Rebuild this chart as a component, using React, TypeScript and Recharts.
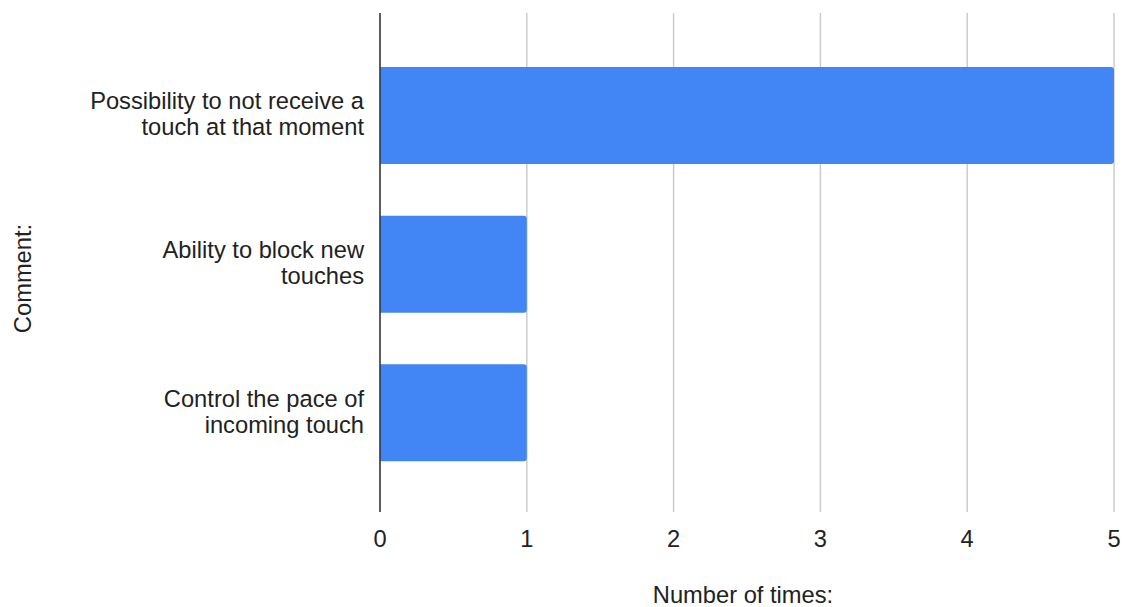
import { BarChart, Bar, XAxis, YAxis, CartesianGrid, Label } from 'recharts'

const comments = [
  'Possibility to not receive a\ntouch at that moment',
  'Ability to block new\ntouches',
  'Control the pace of\nincoming touch',
]
const timesCounted = [5, 1, 1]
const xTicks = [0, 1, 2, 3, 4, 5]

const data = comments.map((c, i) => ({ comment: c, times: timesCounted[i] }))

const FONT = '"Liberation Sans", Arial, sans-serif'
const FS = 23.7

// multi-line category label, right aligned against the axis
function CommentTick(props: any) {
  const { x, y, payload } = props
  const lines = String(payload.value).split('\n')
  const lineH = 26
  const startY = y - ((lines.length - 1) * lineH) / 2 - 1
  return (
    <text
      x={x - 8}
      y={startY}
      textAnchor="end"
      fontFamily={FONT}
      fontSize={FS}
      fill="#222"
      dominantBaseline="central"
    >
      {lines.map((line, i) => (
        <tspan key={i} x={x - 8} y={startY + i * lineH}>
          {line}
        </tspan>
      ))}
    </text>
  )
}

function CommentTitle(props: any) {
  const { viewBox } = props
  const x = viewBox.x + 31
  const y = viewBox.y + viewBox.height / 2 + 16
  return (
    <text
      x={x}
      y={y}
      transform={`rotate(-90, ${x}, ${y})`}
      textAnchor="middle"
      fontFamily={FONT}
      fontSize={FS}
      fill="#222"
    >
      Comment:
    </text>
  )
}

export default function App() {
  return (
    <div style={{ position: 'absolute', left: 0, top: 0, width: 1124, height: 607, background: '#fff' }}>
      <BarChart
        width={1124}
        height={607}
        data={data}
        layout="vertical"
        margin={{ top: 13, right: 10, bottom: 0, left: 0 }}
        barCategoryGap="17.5%"
      >
        <CartesianGrid horizontal={false} stroke="#cccccc" strokeWidth={1.5} />
        <XAxis
          type="number"
          domain={[0, 5]}
          ticks={xTicks}
          axisLine={false}
          tickLine={false}
          height={95}
          tick={{ fontSize: FS, fill: '#222', fontFamily: FONT }}
          tickMargin={12}
        >
          <Label
            value="Number of times:"
            position="insideBottom"
            offset={4}
            dx={-4}
            style={{ fontSize: FS, fill: '#222', fontFamily: FONT }}
          />
        </XAxis>
        <YAxis
          type="category"
          dataKey="comment"
          width={380}
          axisLine={{ stroke: '#333', strokeWidth: 1.5 }}
          tickLine={false}
          tick={<CommentTick />}
          padding={{ top: 28, bottom: 25 }}
        >
          <Label content={<CommentTitle />} />
        </YAxis>
        <Bar dataKey="times" fill="#4285f4" radius={[0, 3, 3, 0]} isAnimationActive={false} />
      </BarChart>
    </div>
  )
}
